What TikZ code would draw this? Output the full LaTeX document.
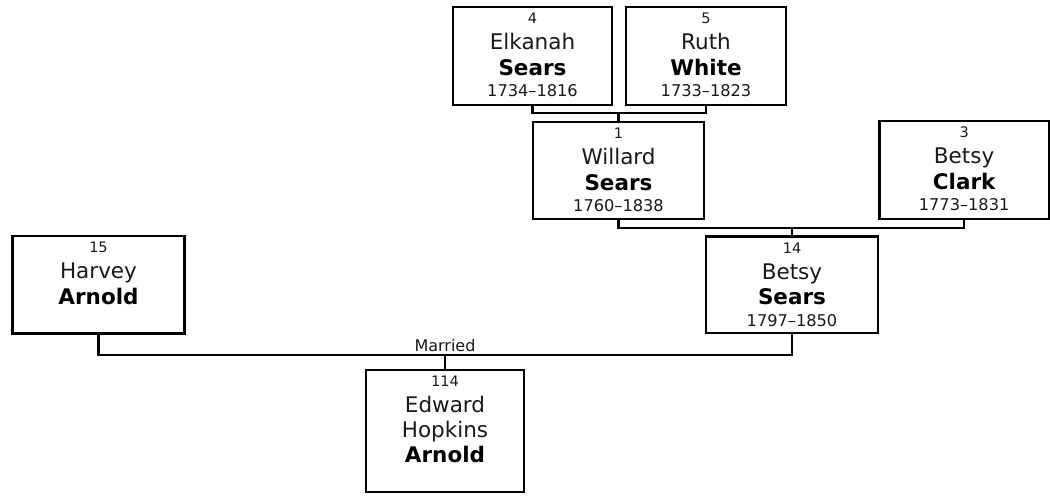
\documentclass[tikz,border=0pt]{standalone}
\usepackage{fontspec}
\setmainfont{DejaVu Sans}
\tikzset{
  pbox/.style={draw=black, line width=2.3pt, fill=white, rectangle, inner sep=0pt, outer sep=0pt},
  link/.style={draw=black, line width=2.3pt},
  numtxt/.style={anchor=base, inner sep=0pt, font=\fontsize{14.5}{17}\selectfont, text=black!90},
  nametxt/.style={anchor=base, inner sep=0pt, font=\fontsize{21.5}{25}\selectfont, text=black!90},
  surtxt/.style={anchor=base, inner sep=0pt, font=\fontsize{21.5}{25}\selectfont\bfseries, text=black},
  datetxt/.style={anchor=base, inner sep=0pt, font=\fontsize{16.2}{19}\selectfont, text=black!90},
  lbltxt/.style={anchor=base, inner sep=0pt, font=\fontsize{16}{19}\selectfont, text=black!90}
}
% #1 id, #2 left, #3 top, #4 right, #5 bottom
\newcommand\famperson[5]{%
  \node[pbox, minimum width={(#4-#2)*1pt}, minimum height={(#5-#3)*1pt}] (#1) at ({(#2+#4)/2},{(#3+#5)/2}) {};
}
\begin{document}
\begin{tikzpicture}[x=1pt,y=-1pt]
\useasboundingbox (0,0) rectangle (1050,496);

\famperson{p4}{453}{7}{612}{105}
\famperson{p5}{626}{7}{786}{105}
\famperson{p1}{533}{122}{704}{219}
\famperson{p3}{879.5}{121}{1048.8}{219}
\famperson{p14}{706}{236.5}{878}{333}
\famperson{p15}{12.5}{236}{184.5}{333.5}
\famperson{p114}{366}{370}{524}{492}

% texts
\node[numtxt]  (p4num)   at ([yshift=-16.5pt]p4.north) {4};
\node[nametxt] (p4first) at ([yshift=-42.5pt]p4.north) {Elkanah};
\node[surtxt]  (p4last)  at ([yshift=-68pt]p4.north) {Sears};
\node[datetxt] (p4dates) at ([yshift=-89.5pt]p4.north) {1734–1816};

\node[numtxt]  (p5num)   at ([yshift=-16.5pt]p5.north) {5};
\node[nametxt] (p5first) at ([yshift=-42.5pt]p5.north) {Ruth};
\node[surtxt]  (p5last)  at ([yshift=-68pt]p5.north) {White};
\node[datetxt] (p5dates) at ([yshift=-89.5pt]p5.north) {1733–1823};

\node[numtxt]  (p1num)   at ([yshift=-16.5pt]p1.north) {1};
\node[nametxt] (p1first) at ([yshift=-42.5pt]p1.north) {Willard};
\node[surtxt]  (p1last)  at ([yshift=-68pt]p1.north) {Sears};
\node[datetxt] (p1dates) at ([yshift=-89.5pt]p1.north) {1760–1838};

\node[numtxt]  (p3num)   at ([yshift=-16.5pt]p3.north) {3};
\node[nametxt] (p3first) at ([yshift=-42.5pt]p3.north) {Betsy};
\node[surtxt]  (p3last)  at ([yshift=-68pt]p3.north) {Clark};
\node[datetxt] (p3dates) at ([yshift=-89.5pt]p3.north) {1773–1831};

\node[numtxt]  (p14num)   at ([yshift=-16.5pt]p14.north) {14};
\node[nametxt] (p14first) at ([yshift=-42.5pt]p14.north) {Betsy};
\node[surtxt]  (p14last)  at ([yshift=-68pt]p14.north) {Sears};
\node[datetxt] (p14dates) at ([yshift=-89.5pt]p14.north) {1797–1850};

\node[numtxt]  (p15num)   at ([yshift=-16.5pt]p15.north) {15};
\node[nametxt] (p15first) at ([yshift=-42.5pt]p15.north) {Harvey};
\node[surtxt]  (p15last)  at ([yshift=-68pt]p15.north) {Arnold};

\node[numtxt]  (p114num)    at ([yshift=-16.5pt]p114.north) {114};
\node[nametxt] (p114first)  at ([yshift=-42.5pt]p114.north) {Edward};
\node[nametxt] (p114middle) at ([yshift=-67.5pt]p114.north) {Hopkins};
\node[surtxt]  (p114last)   at ([yshift=-92.5pt]p114.north) {Arnold};

% connectors
\coordinate (j1) at (618.5,113);
\draw[link] (p4.south) |- (j1) -| (p5.south);
\draw[link] (j1) -- (p1.north);

\coordinate (j2) at (792,228);
\draw[link] (p1.south) |- (j2) -| (p3.south);
\draw[link] (j2) -- (p14.north);

\coordinate (j3) at (445,355);
\draw[link] (p15.south) |- (j3) -| (p14.south);
\draw[link] (j3) -- (p114.north);
\node[lbltxt] (married) at (445,351) {Married};
\end{tikzpicture}
\end{document}
